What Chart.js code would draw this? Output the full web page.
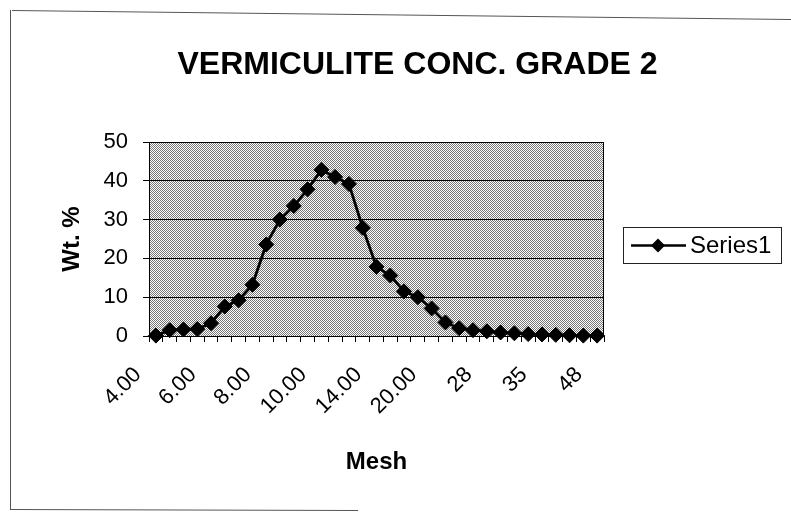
<!DOCTYPE html>
<html>
<head>
<meta charset="utf-8">
<script src="https://cdn.jsdelivr.net/npm/chart.js@4"></script>
<style>
  html, body { margin: 0; padding: 0; background: #fff; }
  #wrap { width: 791px; height: 516px; }
</style>
</head>
<body>
<div id="wrap"><canvas id="chart" width="791" height="516"></canvas></div>
<script>
const meshLabels = ['4.00', '4.50', '5.00', '5.50', '6.00', '6.50', '7.00', '7.50', '8.00', '8.50',
  '9.00', '9.50', '10.00', '11.00', '12.00', '13.00', '14.00', '15.50', '17.00', '18.50',
  '20.00', '22', '24', '26', '28', '30', '32', '33', '35', '39', '42', '45', '48'];
const wtPercent = [0.1, 1.5, 1.7, 1.8, 3.3, 7.6, 9.2, 13.2, 23.6, 30.0, 33.5, 37.8, 42.8, 41.0, 39.2,
  27.9, 17.8, 15.6, 11.5, 10.0, 7.1, 3.5, 2.0, 1.5, 1.2, 0.9, 0.7, 0.5, 0.4, 0.3, 0.2, 0.1, 0.1];
const yTicks = [0, 10, 20, 30, 40, 50];
const seriesName = 'Series1';

const FONT = '"Liberation Sans", Arial, sans-serif';

// dotted grey fill like the old excel plot area
function makePattern() {
  const c = document.createElement('canvas');
  c.width = 2; c.height = 2;
  const g = c.getContext('2d');
  g.fillStyle = '#fff';
  g.fillRect(0, 0, 2, 2);
  g.fillStyle = '#777';
  g.fillRect(0, 0, 1, 1);
  g.fillRect(1, 1, 1, 1);
  return g.createPattern(c, 'repeat');
}

const framePlugin = {
  id: 'frame',
  beforeDraw(chart) {
    const { ctx, chartArea: a } = chart;
    ctx.save();
    ctx.fillStyle = makePattern();
    ctx.fillRect(a.left, a.top, a.right - a.left, a.bottom - a.top);
    ctx.restore();
  },
  beforeDatasetsDraw(chart) {
    const { ctx, chartArea: a } = chart;
    ctx.save();
    ctx.strokeStyle = '#000';
    ctx.lineWidth = 1;
    ctx.strokeRect(a.left + 0.5, a.top + 0.5, a.right - a.left - 1, a.bottom - a.top);
    ctx.restore();
  },
  afterDraw(chart) {
    const ctx = chart.ctx;
    ctx.save();
    // outer border (scan is a bit crooked)
    ctx.strokeStyle = '#555';
    ctx.lineWidth = 1;
    ctx.beginPath();
    ctx.moveTo(10.5, 10); ctx.lineTo(10.5, 510);
    ctx.moveTo(12, 10.5); ctx.lineTo(791, 19.5);
    ctx.moveTo(10, 509.5); ctx.lineTo(358, 510.5);
    ctx.stroke();

    // legend box
    ctx.strokeStyle = '#222';
    ctx.strokeRect(623.5, 227.5, 158, 36);
    const ly = 245.5;
    ctx.strokeStyle = '#000';
    ctx.lineWidth = 2.5;
    ctx.beginPath();
    ctx.moveTo(631, ly); ctx.lineTo(686, ly);
    ctx.stroke();
    ctx.fillStyle = '#000';
    ctx.beginPath();
    ctx.moveTo(658, ly - 7); ctx.lineTo(665, ly); ctx.lineTo(658, ly + 7); ctx.lineTo(651, ly);
    ctx.closePath();
    ctx.fill();
    ctx.font = '24px ' + FONT;
    ctx.textBaseline = 'middle';
    ctx.textAlign = 'left';
    ctx.fillText(chart.data.datasets[0].label, 690, ly + 1);
    ctx.restore();
  }
};

new Chart(document.getElementById('chart'), {
  type: 'line',
  data: {
    labels: meshLabels,
    datasets: [{
      label: seriesName,
      data: wtPercent,
      borderColor: '#000',
      borderWidth: 2.8,
      backgroundColor: '#000',
      pointStyle: 'rectRot',
      pointRadius: 7.5,
      pointBorderWidth: 1,
      pointBackgroundColor: '#000',
      pointBorderColor: '#000',
      tension: 0,
      clip: false
    }]
  },
  options: {
    responsive: false,
    animation: false,
    layout: { padding: { left: 54, right: 10, top: 0, bottom: 30 } },
    plugins: {
      legend: { display: false },
      tooltip: { enabled: false },
      title: {
        display: true,
        text: 'VERMICULITE CONC. GRADE 2',
        color: '#000',
        font: { family: FONT, size: 32, weight: 'bold' },
        padding: { top: 46, bottom: 57.6 }
      }
    },
    scales: {
      x: {
        offset: true,
        grid: { display: true, drawOnChartArea: false, drawTicks: true, tickLength: 6, color: '#000', offset: true },
        border: { display: true, color: '#000', width: 1 },
        ticks: {
          autoSkip: false,
          maxRotation: 45,
          minRotation: 45,
          padding: 20,
          labelOffset: -18,
          color: '#000',
          font: { family: FONT, size: 22 },
          callback: (v, i) => (i % 4 === 0 ? meshLabels[i] : '')
        },
        title: {
          display: true,
          text: 'Mesh',
          color: '#000',
          font: { family: FONT, size: 24, weight: 'bold' },
          padding: { top: 0, bottom: 9.6 }
        },
        afterFit: (s) => { s.height = 150; }
      },
      y: {
        min: yTicks[0],
        max: yTicks[yTicks.length - 1],
        grid: { color: '#000', lineWidth: 1, drawTicks: true, tickLength: 6 },
        border: { display: true, color: '#000', width: 1 },
        ticks: {
          stepSize: 10,
          padding: 15,
          color: '#000',
          font: { family: FONT, size: 22 }
        },
        title: {
          display: true,
          text: 'Wt. %',
          color: '#000',
          font: { family: FONT, size: 24, weight: 'bold' },
          padding: { top: 3.6, bottom: 0 }
        },
        afterFit: (s) => { s.width = 95; }
      },
      // empty right-hand axis that just reserves the room for the legend
      legendRoom: {
        position: 'right',
        display: true,
        grid: { display: false },
        border: { display: false },
        ticks: { display: false },
        afterFit: (s) => { s.width = 177; }
      }
    }
  },
  plugins: [framePlugin]
});
</script>
</body>
</html>
